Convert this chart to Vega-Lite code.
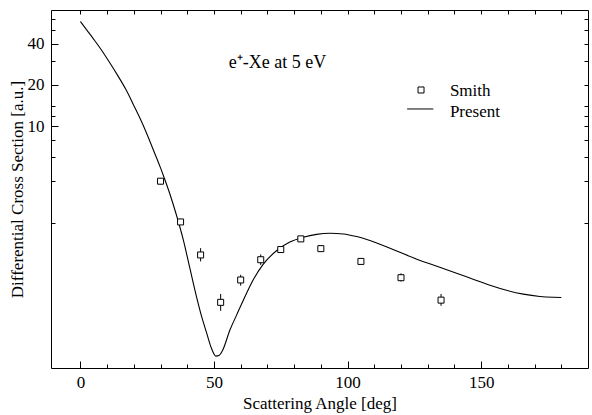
{
  "$schema": "https://vega.github.io/schema/vega-lite/v6.json",
  "width": 537,
  "height": 358,
  "autosize": "none",
  "padding": {"left": 51, "top": 10, "right": 4, "bottom": 47},
  "background": "white",
  "config": {
    "font": "Liberation Serif",
    "view": {"stroke": "black", "strokeWidth": 1},
    "axis": {
      "grid": false,
      "domain": false,
      "labelFont": "Liberation Serif",
      "titleFont": "Liberation Serif",
      "labelColor": "black",
      "titleColor": "black",
      "tickColor": "black",
      "labelFontSize": 17,
      "titleFontSize": 17,
      "titleFontWeight": "normal"
    },
    "text": {"font": "Liberation Serif", "fontSize": 17, "color": "black"}
  },
  "datasets": {
    "curve": [
      {"angle": 0, "dcs": 57.8},
      {"angle": 2.5, "dcs": 49.8},
      {"angle": 5, "dcs": 42.9},
      {"angle": 8, "dcs": 35.6},
      {"angle": 11, "dcs": 29.0},
      {"angle": 14, "dcs": 23.4},
      {"angle": 17, "dcs": 18.6},
      {"angle": 20, "dcs": 14.2},
      {"angle": 23.5, "dcs": 10.2},
      {"angle": 26, "dcs": 7.82},
      {"angle": 28.5, "dcs": 5.93},
      {"angle": 30, "dcs": 5.01},
      {"angle": 31.5, "dcs": 4.18},
      {"angle": 33.5, "dcs": 3.24},
      {"angle": 36, "dcs": 2.26},
      {"angle": 38.5, "dcs": 1.51},
      {"angle": 41, "dcs": 0.933},
      {"angle": 43.5, "dcs": 0.579},
      {"angle": 45.4, "dcs": 0.417},
      {"angle": 47.3, "dcs": 0.316},
      {"angle": 49.1, "dcs": 0.245},
      {"angle": 50.7, "dcs": 0.216},
      {"angle": 52, "dcs": 0.219},
      {"angle": 53.2, "dcs": 0.237},
      {"angle": 56, "dcs": 0.335},
      {"angle": 58.5, "dcs": 0.43},
      {"angle": 62.2, "dcs": 0.618},
      {"angle": 64.7, "dcs": 0.773},
      {"angle": 68.4, "dcs": 1.0},
      {"angle": 73.5, "dcs": 1.26},
      {"angle": 78.4, "dcs": 1.45},
      {"angle": 83.4, "dcs": 1.57},
      {"angle": 88.4, "dcs": 1.65},
      {"angle": 93.4, "dcs": 1.68},
      {"angle": 98.4, "dcs": 1.66},
      {"angle": 103.4, "dcs": 1.59},
      {"angle": 110.9, "dcs": 1.43},
      {"angle": 118.4, "dcs": 1.25},
      {"angle": 125.9, "dcs": 1.09},
      {"angle": 134, "dcs": 0.96},
      {"angle": 140.8, "dcs": 0.863},
      {"angle": 147, "dcs": 0.78},
      {"angle": 153.3, "dcs": 0.705},
      {"angle": 159.5, "dcs": 0.648},
      {"angle": 165.8, "dcs": 0.608},
      {"angle": 172, "dcs": 0.585},
      {"angle": 177, "dcs": 0.577},
      {"angle": 180, "dcs": 0.575}
    ],
    "smith": [
      {"angle": 30, "dcs": 4.01, "lo": 3.8, "hi": 4.2},
      {"angle": 37.5, "dcs": 2.03, "lo": 1.93, "hi": 2.13},
      {"angle": 45, "dcs": 1.17, "lo": 1.05, "hi": 1.31},
      {"angle": 52.5, "dcs": 0.53, "lo": 0.46, "hi": 0.61},
      {"angle": 60, "dcs": 0.77, "lo": 0.70, "hi": 0.84},
      {"angle": 67.5, "dcs": 1.08, "lo": 0.99, "hi": 1.18},
      {"angle": 75, "dcs": 1.28, "lo": 1.22, "hi": 1.34},
      {"angle": 82.5, "dcs": 1.53, "lo": 1.46, "hi": 1.60},
      {"angle": 90, "dcs": 1.30, "lo": 1.24, "hi": 1.37},
      {"angle": 105, "dcs": 1.05, "lo": 1.0, "hi": 1.10},
      {"angle": 120, "dcs": 0.80, "lo": 0.75, "hi": 0.86},
      {"angle": 135, "dcs": 0.55, "lo": 0.50, "hi": 0.61}
    ]
  },
  "resolve": {"axis": {"x": "independent", "y": "independent"}},
  "layer": [
    {
      "data": {"name": "curve"},
      "mark": {"type": "line", "color": "black", "strokeWidth": 1.1, "interpolate": "monotone", "clip": true},
      "encoding": {
        "x": {"field": "angle", "type": "quantitative",
          "scale": {"domain": [-11, 190], "nice": false, "zero": false},
          "axis": {"orient": "bottom", "values": [0, 50, 100, 150], "tickSize": -7, "labelPadding": 13, "title": "Scattering Angle [deg]", "titlePadding": 5, "labelFlush": false}},
        "y": {"field": "dcs", "type": "quantitative",
          "scale": {"type": "log", "domain": [0.177, 70], "nice": false},
          "axis": {"orient": "left", "values": [10, 20, 40], "tickSize": -7, "labelPadding": 14, "format": "d", "title": "Differential Cross Section [a.u.]", "titlePadding": 1, "labelFlush": false}}
      }
    },
    {
      "data": {"name": "smith"},
      "mark": {"type": "rule", "color": "black", "strokeWidth": 1},
      "encoding": {
        "x": {"field": "angle", "type": "quantitative",
          "axis": {"orient": "bottom", "values": [10, 20, 30, 40, 60, 70, 80, 90, 110, 120, 130, 140, 160, 170, 180], "tickSize": -4, "labels": false, "title": null}},
        "y": {"field": "lo", "type": "quantitative",
          "axis": {"orient": "left", "values": [2, 4, 6, 8, 12, 14, 30, 50, 60], "tickSize": -4, "labels": false, "title": null}},
        "y2": {"field": "hi"}
      }
    },
    {
      "data": {"name": "smith"},
      "mark": {"type": "point", "shape": "square", "filled": true, "fill": "white", "stroke": "black", "strokeWidth": 1, "size": 36, "opacity": 1},
      "encoding": {
        "x": {"field": "angle", "type": "quantitative",
          "axis": {"orient": "top", "values": [0, 10, 20, 30, 40, 50, 60, 70, 80, 90, 100, 110, 120, 130, 140, 150, 160, 170, 180], "tickSize": -4, "labels": false, "title": null}},
        "y": {"field": "dcs", "type": "quantitative",
          "axis": {"orient": "right", "values": [2, 4, 6, 8, 10, 12, 14, 20, 30, 40, 50, 60], "tickSize": -4, "labels": false, "title": null}}
      }
    },
    {
      "data": {"values": [{"label": "e⁺-Xe at 5 eV"}]},
      "mark": {"type": "text", "align": "center", "baseline": "middle", "fontSize": 18},
      "encoding": {
        "x": {"datum": 73.8, "type": "quantitative", "axis": null},
        "y": {"datum": 28.7, "type": "quantitative", "axis": null},
        "text": {"field": "label"}
      }
    },
    {
      "data": {"values": [{"series": "Smith"}]},
      "mark": {"type": "point", "shape": "square", "filled": true, "fill": "white", "stroke": "black", "strokeWidth": 1, "size": 36, "opacity": 1},
      "encoding": {
        "x": {"datum": 127.5, "type": "quantitative", "axis": null},
        "y": {"datum": 18.4, "type": "quantitative", "axis": null}
      }
    },
    {
      "data": {"values": [{"series": "Present"}]},
      "mark": {"type": "rule", "color": "black", "strokeWidth": 1},
      "encoding": {
        "x": {"datum": 122.3, "type": "quantitative", "axis": null},
        "x2": {"datum": 132.1},
        "y": {"datum": 13.4, "type": "quantitative", "axis": null}
      }
    },
    {
      "data": {"values": [{"series": "Smith", "v": 18.1}, {"series": "Present", "v": 12.8}]},
      "mark": {"type": "text", "align": "left", "baseline": "middle"},
      "encoding": {
        "x": {"datum": 138.3, "type": "quantitative", "axis": null},
        "y": {"field": "v", "type": "quantitative", "axis": null},
        "text": {"field": "series"}
      }
    }
  ]
}
